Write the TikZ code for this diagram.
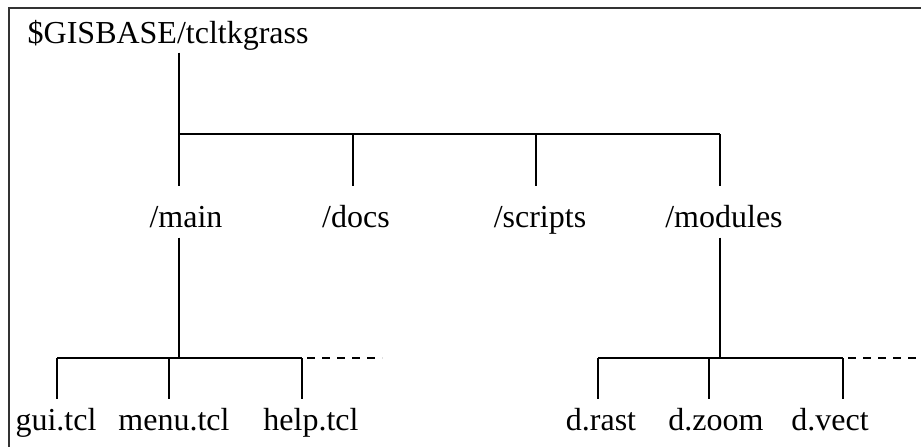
\documentclass[tikz,border=0pt]{standalone}
\usepackage{fontspec}
\setmainfont{Liberation Serif}

\tikzset{more/.style={dash pattern=on 8pt off 7pt}}

\begin{document}
\begin{tikzpicture}[x=1pt, y=-1pt, line width=1.4pt,
every node/.style={font=\fontsize{32}{38}\selectfont, inner sep=0pt,
text height=22pt, text depth=7pt}]
\useasboundingbox (0,0) rectangle (921,447);
% frame
\draw[line width=2pt, black!80] (9,447) -- (9,8) -- (921,8);
% root and first level
\node[anchor=base west] (root) at (27,43) {\$GISBASE/tcltkgrass};
\foreach \n/\x/\c in {main/179/186, docs/353/356, scripts/536/540, modules/720/724}{
\coordinate (t\n) at (\x,134);
\node[anchor=base] (\n) at (\c,227) {/\n};
\draw[shorten >=18pt] (t\n) -- (t\n |- \n.north);}
\draw[shorten <=2pt] (tmain |- root.south) -- (tmain);
\draw (tmain) -- (tmodules);
% second level
\foreach \n/\x/\c/\t in {gui/57/56/gui.tcl, menu/169/174/menu.tcl, help/302/311/help.tcl,
rast/598/601/d.rast, zoom/709/716/d.zoom, vect/843/830/d.vect}{
\coordinate (t\n) at (\x,358);
\node[anchor=base] (\n) at (\c,430) {\t};
\draw[shorten >=8pt] (t\n) -- (t\n |- \n.north);}
\draw[shorten <=3pt] (tmain |- main.south) -- (tmain |- tgui);
\draw[shorten <=3pt] (tmodules |- modules.south) -- (tmodules |- trast);
\draw (tgui) -- (thelp);
\draw (trast) -- (tvect);
\coordinate (mainmore) at (382,358);
\coordinate (modmore) at (921,358);
\draw[more] ([xshift=5pt]thelp) -- (mainmore);
\draw[more] ([xshift=5pt]tvect) -- (modmore);
\end{tikzpicture}
\end{document}
